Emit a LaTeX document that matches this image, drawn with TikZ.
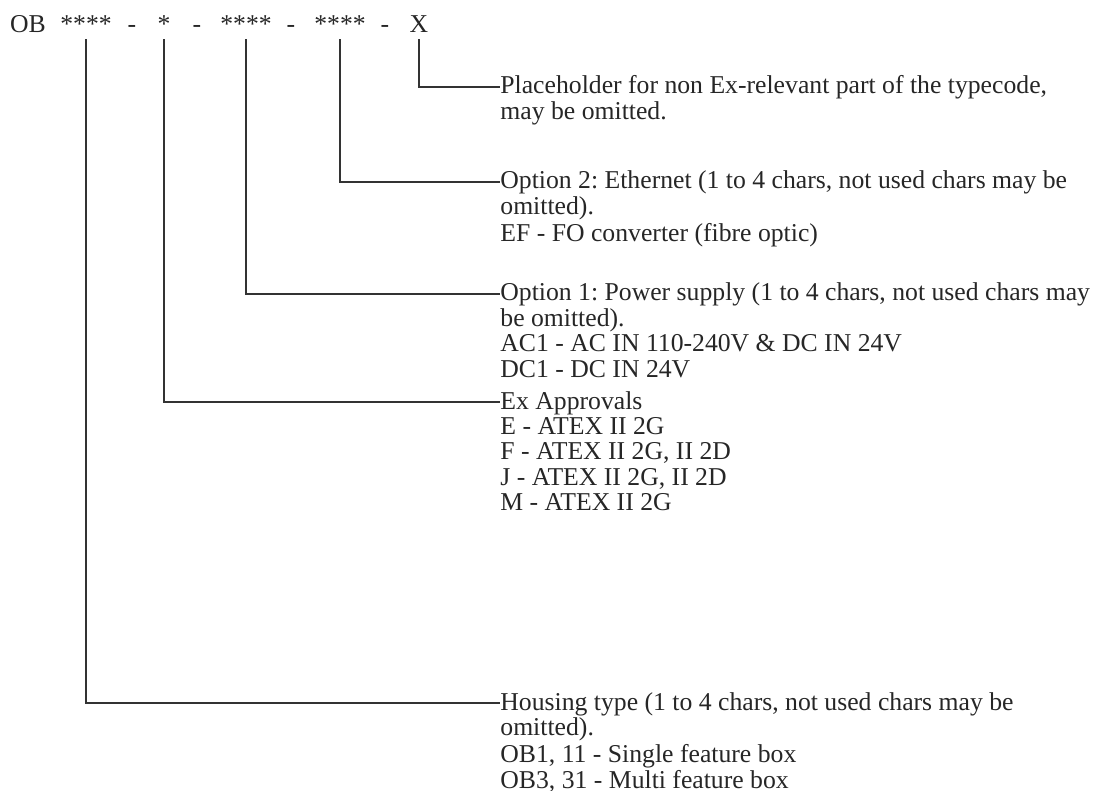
\documentclass[tikz,border=0pt]{standalone}
\usepackage{fontspec}
\setmainfont{Liberation Serif}
\usepackage{tikz}
\usetikzlibrary{positioning}
\newcommand{\tcfont}{\fontsize{12.85}{12.75}\selectfont\frenchspacing}

\begin{document}
\begin{tikzpicture}[
  x=0.5pt, y=-0.5pt, font=\tcfont, text=black!85,
  code/.style={anchor=base,inner sep=0pt,text depth=3pt},
  head/.style={anchor=base west,inner sep=0pt,text height=7pt,text depth=0pt},
  body/.style={below=3.2pt of #1.south west,anchor=north west,inner sep=0pt,align=left},
  lead/.style={draw=black!80,line width=0.6pt}]
  \useasboundingbox (0,0) rectangle (1120,791);
  % type code
  \node[code] (ob) at (28,33) {OB};
  \node[code] (house-c) at (86,33) {****};
  \node[code] at (132,33) {-};
  \node[code] (ex-c) at (164,33) {*};
  \node[code] at (197,33) {-};
  \node[code] (opt1-c) at (246,33) {****};
  \node[code] at (291,33) {-};
  \node[code] (opt2-c) at (340,33) {****};
  \node[code] at (385,33) {-};
  \node[code] (rest-c) at (419,33) {X};
  % descriptions
  \node[head] (rest) at (500,94) {Placeholder for non Ex-relevant part of the typecode,};
  \node[body=rest] (rest-b) {\strut may be omitted.};
  \node[head] (opt2) at (500,189) {Option 2: Ethernet (1 to 4 chars, not used chars may be};
  \node[body=opt2] (opt2-b) {\strut omitted).\\EF - FO converter (fibre optic)};
  \node[head] (opt1) at (500,301) {Option 1: Power supply (1 to 4 chars, not used chars may};
  \node[body=opt1] (opt1-b) {\strut be omitted).\\AC1 - AC IN 110-240V \& DC IN 24V\\DC1 - DC IN 24V};
  \node[head] (ex) at (500,409) {Ex Approvals};
  \node[body=ex] (ex-b) {\strut E - ATEX II 2G\\F - ATEX II 2G, II 2D\\J - ATEX II 2G, II 2D\\M - ATEX II 2G};
  \node[head] (house) at (500,710) {Housing type (1 to 4 chars, not used chars may be};
  \node[body=house] (house-b) {\strut omitted).\\OB1, 11 - Single feature box\\OB3, 31 - Multi feature box};
  % leaders
  \draw[lead] (rest-c.south) |- (rest.west);
  \draw[lead] (opt2-c.south) |- (opt2.west);
  \draw[lead] (opt1-c.south) |- (opt1.west);
  \draw[lead] (ex-c.south) |- (ex.west);
  \draw[lead] (house-c.south) |- (house.west);
\end{tikzpicture}
\end{document}
